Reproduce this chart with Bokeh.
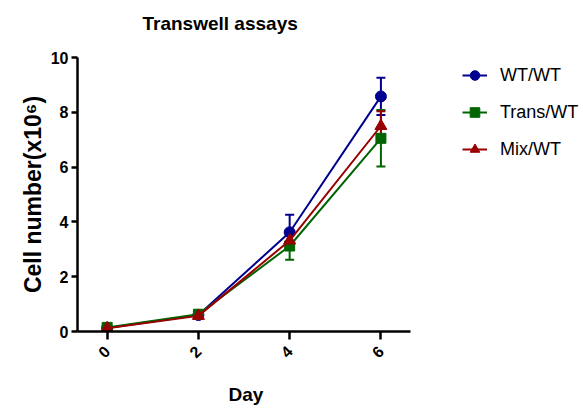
import math
from bokeh.plotting import figure
from bokeh.models import (Range1d, Whisker, ColumnDataSource, Legend, LegendItem,
                          FixedTicker, LinearAxis, Title)
from bokeh.embed import file_html
from bokeh.resources import INLINE

# Cell counts (x10^6) per day, mean and SEM for each co-culture
days = [0, 2, 4, 6]
wt_wt = [0.13, 0.60, 3.62, 8.58]
wt_wt_err = [0.03, 0.05, 0.64, 0.68]
trans_wt = [0.15, 0.63, 3.12, 7.05]
trans_wt_err = [0.03, 0.05, 0.50, 1.03]
mix_wt = [0.12, 0.57, 3.32, 7.50]
mix_wt_err = [0.02, 0.05, 0.33, 0.54]
y_ticks = [0, 2, 4, 6, 8, 10]

SANS = "Liberation Sans"

# The frame runs to the right edge so the legend can sit beside the data;
# the x axis itself is bounded to the data span.
p = figure(frame_width=506, frame_height=274, output_backend="svg", toolbar_location=None,
           x_range=Range1d(-0.65, 10.44), y_range=Range1d(0, 10),
           min_border_left=77, min_border_right=0, min_border_top=57,
           min_border_bottom=79, title_location=None)
p.outline_line_color = None
p.xgrid.visible = False
p.ygrid.visible = False


def gap(px):
    """A blank axis (one invisible tick, empty label) that only reserves space."""
    return LinearAxis(ticker=FixedTicker(ticks=[8]), major_label_overrides={8: ""},
                      major_label_text_font_size="1px", axis_line_color=None,
                      major_tick_line_color=None, minor_tick_line_color=None,
                      major_tick_in=0, major_tick_out=px, major_label_standoff=0)


for ax in (p.xaxis[0], p.yaxis[0]):
    ax.axis_line_width = 2.5
    ax.major_tick_line_width = 2.5
    ax.minor_tick_line_color = None
    ax.major_tick_in = 0
    ax.major_label_text_font = SANS
    ax.major_label_text_font_style = "bold"
    ax.major_label_text_font_size = "16px"
    ax.major_label_text_color = "black"
    ax.axis_label_text_font = SANS
    ax.axis_label_text_font_style = "bold"
    ax.axis_label_text_color = "black"

p.xaxis.bounds = (-0.65, 6.65)
p.xaxis.ticker = FixedTicker(ticks=days)
p.xaxis.major_tick_out = 8
p.xaxis.major_label_orientation = math.pi / 4
p.xaxis.major_label_standoff = 9

p.yaxis.ticker = FixedTicker(ticks=y_ticks)
p.yaxis.major_tick_out = 6
p.yaxis.major_label_standoff = 3
p.yaxis.axis_label = "Cell number(x10\u2076)"
p.yaxis.axis_label_text_font_size = "23px"
p.yaxis.axis_label_standoff = 2

# Chart title, lifted clear of the frame
p.add_layout(gap(24), "above")
p.add_layout(Title(text="Transwell assays", text_font=SANS, text_font_size="19px",
                   text_font_style="bold", text_color="black", align="left",
                   offset=65, standoff=0), "above")

# "Day" label centred under the bounded x axis
p.add_layout(gap(15), "below")
p.add_layout(Title(text="Day", text_font=SANS, text_font_size="19px",
                   text_font_style="bold", text_color="black", align="left",
                   offset=151, standoff=0), "below")

series = [
    ("WT/WT", wt_wt, wt_wt_err, "#000090", "circle", 11),
    ("Trans/WT", trans_wt, trans_wt_err, "#006400", "square", 10),
    ("Mix/WT", mix_wt, mix_wt_err, "#990000", "triangle", 12),
]

items = []
for name, vals, errs, color, marker, size in series:
    src = ColumnDataSource(dict(
        x=days, y=vals,
        lo=[v - e for v, e in zip(vals, errs)],
        hi=[v + e for v, e in zip(vals, errs)],
    ))
    w = Whisker(source=src, base="x", lower="lo", upper="hi",
                line_color=color, line_width=2)
    w.upper_head.size = 9
    w.lower_head.size = 9
    w.upper_head.line_color = color
    w.lower_head.line_color = color
    w.upper_head.line_width = 2
    w.lower_head.line_width = 2
    p.add_layout(w)
    ln = p.line("x", "y", source=src, line_color=color, line_width=2)
    mk = p.scatter("x", "y", source=src, marker=marker, size=size,
                   fill_color=color, line_color=color)
    items.append(LegendItem(label=name, renderers=[ln, mk]))

legend = Legend(items=items, location=(385, 170), orientation="vertical")
legend.border_line_color = None
legend.background_fill_alpha = 0
legend.padding = 0
legend.margin = 0
legend.glyph_width = 25
legend.glyph_height = 24
legend.label_height = 24
legend.spacing = 13
legend.label_standoff = 13
legend.label_text_font = SANS
legend.label_text_font_size = "18px"
legend.label_text_color = "black"
p.add_layout(legend)

open("out.html", "w").write(file_html(p, INLINE))
